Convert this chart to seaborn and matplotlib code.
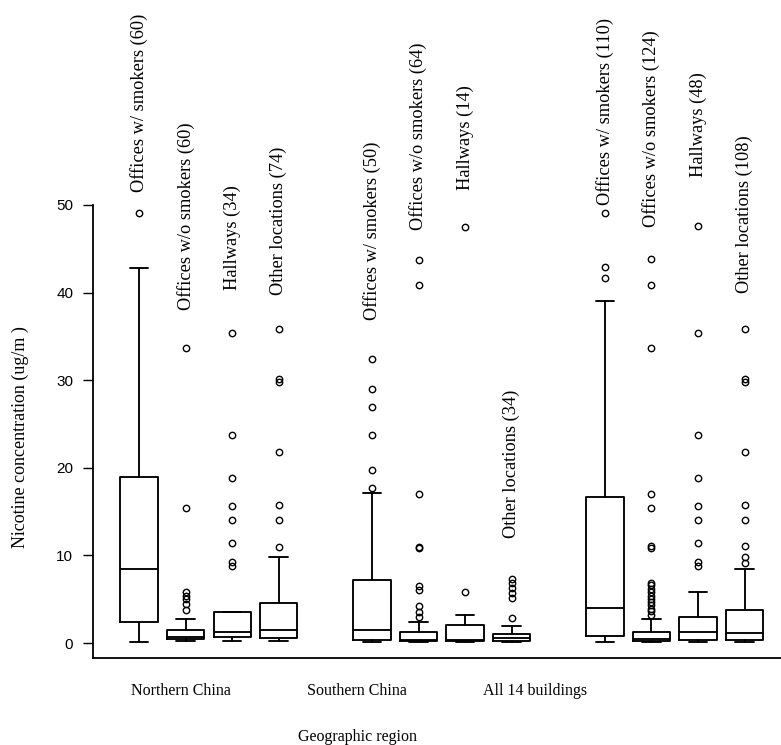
import matplotlib
matplotlib.use("Agg")
import matplotlib.pyplot as plt
import seaborn as sns

# ---------------- data ----------------
regions = ["Northern China", "Southern China", "All 14 buildings"]
locations = ["Offices w/ smokers", "Offices w/o smokers", "Hallways", "Other locations"]
n_samples = [60, 60, 34, 74, 50, 64, 14, 34, 110, 124, 48, 108]

whislo = [0.15, 0.19, 0.19, 0.19, 0.15, 0.15, 0.15, 0.15, 0.15, 0.15, 0.15, 0.15]
q1     = [2.36, 0.50, 0.72, 0.53, 0.34, 0.20, 0.20, 0.25, 0.84, 0.25, 0.34, 0.34]
med    = [8.50, 0.65, 1.22, 1.48, 1.48, 0.34, 0.30, 0.53, 3.96, 0.46, 1.25, 1.15]
q3     = [18.9, 1.50, 3.57, 4.53, 7.19, 1.29, 2.05, 1.03, 16.7, 1.29, 3.00, 3.77]
whishi = [42.8, 2.75, 3.57, 9.85, 17.1, 2.36, 3.20, 1.98, 39.0, 2.74, 5.80, 8.50]
fliers = [
    [49.1],
    [3.8, 4.5, 5.0, 5.4, 5.8, 15.4, 33.7],
    [8.8, 9.3, 11.4, 14.0, 15.6, 18.8, 23.7, 35.4],
    [11.0, 14.0, 15.75, 21.8, 29.8, 30.1, 35.8],
    [17.7, 19.7, 23.7, 26.9, 29.0, 32.4],
    [3.0, 3.57, 4.2, 6.1, 6.5, 10.8, 11.0, 17.0, 40.9, 43.7],
    [5.86, 47.5],
    [2.8, 5.1, 5.67, 6.24, 6.8, 7.3],
    [41.7, 42.9, 49.1],
    [3.2, 3.6, 3.9, 4.3, 4.7, 5.0, 5.4, 5.8, 6.2, 6.6, 6.9, 10.8, 11.1, 15.4, 17.0, 33.7, 40.9, 43.8],
    [8.8, 9.3, 11.4, 14.0, 15.6, 18.8, 23.7, 35.4, 47.6],
    [9.1, 9.85, 11.1, 14.0, 15.75, 21.8, 29.8, 30.1, 35.8],
]

# ---------------- layout ----------------
positions = [1, 2, 3, 4, 6, 7, 8, 9, 11, 12, 13, 14]
label_y = [51.5, 38.0, 40.3, 39.7, 36.9, 47.1, 51.7, 12.0, 50.0, 47.5, 53.2, 40.0]
region_tick_x = [1.9, 5.68, 9.5]

sns.set_theme(style="ticks")
serif = ["Liberation Serif", "DejaVu Serif"]
sans = ["Liberation Sans", "DejaVu Sans"]
plt.rcParams["font.family"] = serif

fig = plt.figure(figsize=(7.81, 7.45), dpi=100)
ax = fig.add_axes([93 / 781, 87 / 745, 688 / 781, 453 / 745])

stats = []
for i in range(len(positions)):
    stats.append(dict(med=med[i], q1=q1[i], q3=q3[i], whislo=whislo[i],
                      whishi=whishi[i], fliers=fliers[i]))

lw = 1.35
ax.bxp(stats, positions=positions, widths=0.8, showfliers=True,
       boxprops=dict(color="black", linewidth=lw),
       medianprops=dict(color="black", linewidth=lw),
       whiskerprops=dict(color="black", linewidth=lw),
       capprops=dict(color="black", linewidth=lw),
       capwidths=0.4,
       flierprops=dict(marker="o", markerfacecolor="none", markeredgecolor="black",
                       markersize=4.6, markeredgewidth=1.0, linestyle="none"))

ax.set_xlim(0.013, 14.78)
ax.set_ylim(-1.71, 50)

# rotated category labels above each box
for i, p in enumerate(positions):
    loc = locations[i % 4]
    ax.text(p, label_y[i], f"{loc} ({n_samples[i]})", rotation=90,
            ha="center", va="bottom", fontsize=13.2, family=serif,
            color="black", clip_on=False)

# axes styling
sns.despine(ax=ax, top=True, right=True)
ax.spines["left"].set_bounds(-1.71, 50)
for s in ["left", "bottom"]:
    ax.spines[s].set_color("black")
    ax.spines[s].set_linewidth(1.3)
ax.set_facecolor("white")
fig.patch.set_facecolor("white")

ax.set_yticks([0, 10, 20, 30, 40, 50])
ax.set_yticklabels(["0", "10", "20", "30", "40", "50"], family=sans, fontsize=11)
ax.tick_params(axis="y", length=7.2, width=1.0, color="black", pad=7, labelcolor="black")

ax.set_xticks(region_tick_x)
ax.set_xticklabels(regions, family=serif, fontsize=11.5)
ax.tick_params(axis="x", length=0, pad=18, labelcolor="black")

ax.set_xlabel("Geographic region", family=serif, fontsize=11.5, color="black")
ax.xaxis.set_label_coords(0.384, -0.174)
ax.xaxis.label.set_va("center")

ax.set_ylabel("Nicotine concentration (ug/m )", family=serif, fontsize=13, color="black")
ax.yaxis.set_label_coords(-0.106, 0.488)
ax.yaxis.label.set_va("center")

ax.grid(False)
fig.savefig("out.png", dpi=100, facecolor="white")
